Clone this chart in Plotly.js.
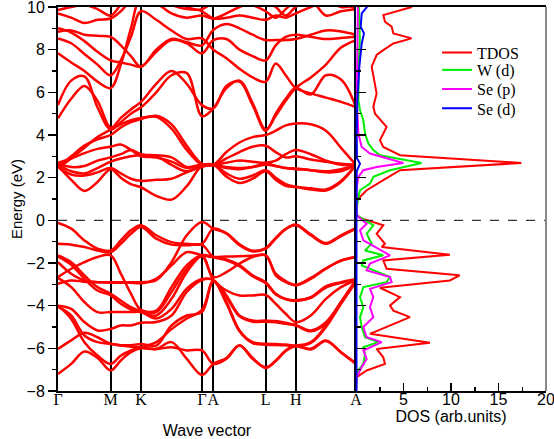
<!DOCTYPE html>
<html>
<head>
<meta charset="utf-8">
<script src="https://cdn.plot.ly/plotly-3.0.1.min.js"></script>
<style>html,body{margin:0;padding:0;background:#fff}#plot{width:554px;height:439px}</style>
</head>
<body>
<div id="plot"></div>
<script>
// k-path (high symmetry points) and sample k positions
const hsPos = [0, 52.7, 83, 144, 155.3, 207.7, 237.7, 298];
const hsLabels = ['Γ', 'M', 'K', 'Γ', 'A', 'L', 'H', 'A'];
const kGrid = [0, 13.2, 26.4, 39.5, 52.7, 62.8, 72.9, 83, 98.25, 113.5, 128.75, 144, 155.3, 168.4, 181.5, 194.6, 207.7, 217.7, 227.7, 237.7, 252.8, 267.9, 283, 298];

// valence bands (eV) at kGrid
const vb1 = [-0.12, -0.39, -0.94, -1.33, -1.41, -0.94, -0.47, -0.23, -0.7, -1.02, -1.1, -1.1, -0.39, -0.63, -1.17, -1.46, -1.33, -0.86, -0.42, -0.23, -0.7, -1.1, -0.74, -0.39];
const vb2 = [-1.1, -1.14, -1.25, -1.41, -1.49, -1.1, -0.63, -0.31, -0.86, -1.14, -1.17, -1.15, -1.72, -1.87, -2.15, -2.62, -2.95, -3.48, -3.7, -3.78, -3.63, -3.15, -2.93, -2.78];
const vb3 = [-1.64, -1.96, -2.58, -3.13, -3.44, -3.76, -4.07, -4.25, -4.3, -3.36, -2.27, -1.64, -1.72, -1.83, -2.1, -2.58, -2.9, -3.44, -3.68, -3.75, -3.6, -3.1, -2.9, -2.75];
const vb4 = [-1.7, -2.08, -2.74, -3.29, -3.52, -3.91, -4.18, -4.3, -4.46, -3.68, -2.43, -1.68, -2.8, -3.29, -3.52, -3.52, -3.5, -3.91, -4.38, -4.77, -4.46, -3.68, -3.13, -2.8];
const vb5 = [-2.66, -2.27, -1.96, -1.72, -1.64, -2.5, -3.44, -4.2, -4.23, -3.13, -2.11, -1.66, -2.66, -2.43, -2.03, -1.72, -1.64, -2.58, -2.9, -3.05, -2.74, -2.27, -1.88, -1.72];
const vb6 = [-1.96, -2.5, -2.82, -2.9, -2.9, -2.9, -2.9, -2.9, -2.8, -1.96, -0.7, -0.08, -0.39, -0.6, -1.12, -1.42, -1.3, -0.82, -0.4, -0.2, -0.66, -1.06, -0.7, -0.37];
const vb7 = [-2.97, -2.82, -2.88, -2.9, -2.92, -2.92, -2.92, -2.95, -2.74, -2.11, -1.49, -1.64, -1.72, -1.7, -1.68, -1.66, -1.64, -2.5, -2.85, -3.02, -2.7, -2.25, -1.9, -1.72];
const vb8 = [-2.7, -3.13, -3.83, -4.3, -4.3, -4.3, -4.3, -4.3, -4.6, -4.15, -3.2, -2.75, -2.8, -3.52, -4.46, -4.7, -4.7, -4.72, -4.8, -4.9, -5.16, -4.77, -3.83, -2.8];
const vb9 = [-4.0, -4.15, -4.77, -5.16, -5.09, -4.93, -4.93, -4.8, -4.77, -4.46, -3.36, -2.8, -2.8, -3.83, -5.16, -5.71, -5.79, -5.8, -5.82, -5.87, -5.71, -4.93, -3.83, -2.8];
const vb10 = [-4.05, -4.46, -5.4, -5.71, -5.79, -5.85, -5.85, -5.8, -5.87, -4.93, -4.46, -4.3, -2.85, -3.6, -4.5, -4.75, -4.75, -4.78, -4.85, -4.93, -5.2, -4.85, -3.9, -2.85];
const vb11 = [-6.03, -5.63, -5.27, -5.48, -5.79, -5.87, -5.92, -5.95, -6.03, -5.95, -6.1, -6.1, -6.73, -6.49, -5.87, -6.49, -6.89, -6.57, -6.1, -5.87, -6.02, -5.63, -6.18, -6.7];
const vb12 = [-7.2, -6.73, -6.15, -6.45, -7.04, -6.57, -6.18, -6.0, -6.03, -5.71, -6.49, -7.25, -6.73, -6.45, -5.85, -6.45, -6.92, -6.6, -6.12, -5.9, -6.05, -5.66, -6.2, -6.73];
const vb13 = [-4.0, -4.62, -5.71, -6.34, -6.73, -6.34, -6.1, -5.95, -5.71, -5.1, -4.6, -4.2, -2.85, -3.9, -5.2, -5.75, -5.83, -5.84, -5.86, -5.9, -5.75, -5.0, -3.9, -2.85];

// conduction bands (eV) at kGrid
const cb1 = [2.55, 1.9, 1.38, 1.8, 2.4, 2.0, 1.7, 1.55, 1.15, 0.97, 1.6, 2.55, 2.6, 2.05, 1.75, 1.95, 2.3, 1.9, 1.62, 1.56, 1.45, 1.4, 1.8, 2.6];
const cb2 = [2.5, 2.15, 2.1, 2.25, 2.45, 2.2, 1.95, 1.85, 1.9, 1.95, 2.25, 2.5, 2.6, 2.2, 1.95, 2.1, 2.35, 2.0, 1.7, 1.58, 1.5, 1.45, 1.85, 2.6];
const cb3 = [2.6, 2.3, 2.2, 2.45, 2.75, 2.9, 3.0, 3.05, 3.0, 2.6, 2.3, 2.6, 2.6, 2.45, 2.4, 2.5, 2.66, 2.55, 2.45, 2.43, 2.35, 2.3, 2.4, 2.6];
const cb4 = [2.65, 2.5, 2.55, 2.8, 2.95, 3.1, 3.3, 3.1, 3.05, 2.95, 2.5, 2.62, 2.6, 2.9, 3.2, 3.45, 3.5, 3.2, 2.95, 3.0, 2.85, 2.75, 2.65, 2.6];
const cb5 = [2.7, 2.9, 3.15, 3.35, 3.45, 3.55, 3.3, 3.0, 2.95, 2.75, 2.45, 2.6, 2.6, 3.2, 3.65, 3.9, 4.0, 4.2, 4.45, 4.54, 4.5, 4.2, 3.4, 2.6];
const cb6 = [2.5, 3.0, 3.5, 3.8, 4.0, 4.35, 4.6, 4.75, 4.9, 4.5, 3.5, 2.65, 2.6, 2.7, 2.8, 2.75, 2.7, 2.8, 3.1, 3.3, 3.1, 2.8, 2.6, 2.6];
const cb7 = [2.45, 2.9, 3.4, 3.9, 4.25, 4.5, 4.7, 4.8, 4.85, 4.3, 3.3, 2.6, 2.6, 2.5, 2.45, 2.5, 2.6, 2.55, 2.45, 2.4, 2.35, 2.25, 2.3, 2.6];
const cb8 = [4.78, 5.7, 6.3, 5.6, 4.35, 4.8, 5.2, 5.55, 6.4, 7.0, 6.4, 5.4, 5.25, 6.3, 6.5, 5.4, 4.2, 5.0, 5.7, 6.2, 5.9, 6.8, 6.6, 5.3];
const cb9 = [5.4, 6.55, 6.75, 5.3, 4.25, 4.6, 5.0, 5.3, 6.0, 6.8, 6.9, 4.88, 5.25, 6.2, 6.55, 5.5, 4.25, 4.9, 5.6, 6.2, 6.7, 7.3, 8.1, 8.45];
const cb10 = [7.83, 7.4, 7.0, 6.5, 6.2, 7.3, 9.0, 10.5, 10.6, 10.4, 10.0, 9.8, 9.46, 9.5, 9.6, 9.5, 9.4, 9.6, 9.5, 9.7, 10.0, 10.3, 10.2, 9.9];
const cb11 = [8.53, 8.3, 7.8, 7.3, 6.8, 7.5, 8.6, 9.8, 9.4, 8.9, 8.5, 8.53, 8.0, 7.6, 7.1, 6.7, 6.5, 7.35, 6.8, 6.2, 5.95, 5.75, 5.55, 5.3];
const cb12 = [9.0, 8.8, 8.4, 7.9, 7.5, 7.4, 7.3, 7.2, 7.9, 8.45, 8.3, 7.83, 8.45, 8.5, 8.0, 7.7, 7.5, 8.2, 8.6, 8.7, 8.6, 8.5, 8.55, 8.6];
const cb13 = [8.84, 8.9, 8.7, 8.65, 8.6, 8.2, 7.7, 7.2, 8.0, 8.5, 8.35, 8.2, 8.92, 9.2, 9.0, 8.7, 8.45, 8.45, 8.45, 8.5, 8.7, 8.9, 8.85, 8.7];
const cb14 = [9.7, 9.5, 9.25, 9.4, 9.46, 9.8, 10.3, 10.6, 10.2, 9.7, 9.5, 9.6, 9.46, 9.7, 10.0, 10.2, 10.3, 10.0, 9.6, 10.0, 10.3, 9.6, 9.8, 9.9];
const cb15 = [9.86, 10.0, 10.1, 9.9, 9.6, 10.1, 10.5, 10.8, 10.5, 10.1, 9.9, 9.9, 10.2, 10.3, 10.4, 10.1, 9.8, 9.5, 9.9, 10.3, 10.6, 10.4, 10.0, 10.1];

// DOS (arb. units) vs energy (eV)
const tdosE = [10, 9.98, 9.62, 9.31, 9.08, 8.76, 8.53, 8.29, 7.98, 7.75, 7.2, 6.73, 5.95, 5.32, 5.0, 4.38, 3.75, 3.44, 3.05, 2.69, 2.35, 1.88, 1.41, 0.94, 0.3, 0.1, -0.23, -0.63, -1.1, -1.25, -1.61, -1.88, -2.27, -2.58, -2.82, -3.16, -3.6, -3.99, -4.23, -4.54, -5.32, -5.74, -6.03, -6.42, -6.73, -7.04, -7.35, -7.6, -8];
const tdosV = [5.9, 5.68, 2.87, 3.05, 3.75, 3.93, 5.85, 3.93, 2.87, 2.17, 1.65, 1.82, 2.17, 1.82, 2.0, 3.22, 2.52, 2.87, 4.63, 17.4, 4.63, 2.87, 1.12, 0.07, 0.0, 0.5, 2.87, 2.17, 3.05, 2.7, 9.88, 2.87, 3.22, 10.9, 9.88, 2.52, 4.63, 3.58, 3.93, 5.68, 1.47, 7.78, 2.17, 2.87, 3.05, 1.12, 0.07, 0, 0];
const wdE = [10, 9.0, 8.5, 7.5, 6.5, 5.63, 5.16, 4.69, 4.07, 3.6, 3.29, 3.05, 2.69, 2.35, 2.04, 1.72, 1.41, 1.1, 0.5, 0.23, -0.23, -0.63, -1.1, -1.41, -1.64, -1.88, -2.11, -2.66, -2.9, -3.13, -3.6, -4.07, -4.54, -5.0, -5.48, -5.71, -5.95, -6.26, -6.73, -7.04, -7.35, -8];
const wdV = [0.3, 0.35, 0.4, 0.3, 0.25, 0.25, 0.42, 0.77, 0.95, 1.3, 1.82, 2.52, 6.9, 3.58, 1.82, 1.47, 0.42, 0.25, 0.05, 0.07, 1.82, 1.12, 1.65, 0.95, 2.87, 0.77, 0.6, 3.58, 3.22, 0.77, 0.42, 0.77, 0.42, 0.6, 0.95, 2.35, 0.77, 0.95, 0.77, 0.25, 0.07, 0];
const sepE = [10, 8.5, 7, 5.63, 4.07, 3.44, 3.13, 2.69, 2.5, 2.35, 2.04, 1.56, 0.5, 0.23, -0.16, -0.47, -0.94, -1.64, -2.03, -2.35, -2.66, -2.9, -3.21, -3.6, -4.07, -4.54, -5.0, -5.48, -5.71, -6.1, -6.5, -6.88, -7.35, -8];
const sepV = [0.2, 0.15, 0.1, 0.07, 0.25, 0.6, 1.47, 4.98, 2.17, 0.77, 0.25, 0.07, 0.05, 0.07, 1.12, 0.42, 0.77, 3.58, 1.47, 1.12, 3.58, 3.75, 1.47, 1.82, 1.47, 1.82, 0.77, 1.12, 2.7, 0.77, 1.12, 0.6, 0.07, 0];
const sedE = [10, 9.98, 9.7, 9.08, 8.76, 8.29, 7.2, 5.63, 4.07, 2.9, 2.66, 2.3, 0, -4, -8];
const sedV = [1.2, 1.12, 0.6, 0.49, 0.84, 0.6, 0.35, 0.14, 0.07, 0.1, 0.42, 0.07, 0.05, 0.06, 0.05];

const bands = [vb1, vb2, vb3, vb4, vb5, vb6, vb7, vb8, vb9, vb10, vb11, vb12, vb13,
               cb1, cb2, cb3, cb4, cb5, cb6, cb7, cb8, cb9, cb10, cb11, cb12, cb13, cb14, cb15];

const traces = bands.map(b => ({
  x: kGrid, y: b, type: 'scatter', mode: 'lines', xaxis: 'x', yaxis: 'y',
  line: {color: '#ff0000', width: 2.5, shape: 'spline', smoothing: 1},
  showlegend: false, hoverinfo: 'skip'
}));

const dosSets = [
  {name: 'TDOS', x: tdosV, y: tdosE, c: '#ff0000', lg: 'legend'},
  {name: 'W (d)', x: wdV, y: wdE, c: '#00ee00', lg: 'legend2'},
  {name: 'Se (p)', x: sepV, y: sepE, c: '#ff00ff', lg: 'legend3'},
  {name: 'Se (d)', x: sedV, y: sedE, c: '#0000ff', lg: 'legend4'}
];
dosSets.forEach(d => traces.push({
  x: d.x, y: d.y, name: d.name, type: 'scatter', mode: 'lines', xaxis: 'x2', yaxis: 'y2',
  line: {color: d.c, width: 2}, hoverinfo: 'skip', legend: d.lg, showlegend: true
}));

const sans = 'Liberation Sans, Arial, sans-serif';
const serif = 'Liberation Serif, Times New Roman, serif';
const split = 0.6107;

function legendAt(yPaper) {
  return {x: 0.7767, y: yPaper, xanchor: 'left', yanchor: 'middle', bgcolor: 'rgba(0,0,0,0)',
          borderwidth: 0, font: {family: serif, size: 16, color: '#000'}};
}

const layout = {
  width: 554, height: 439,
  margin: {l: 58, r: 8, t: 7, b: 48},
  paper_bgcolor: '#ffffff', plot_bgcolor: '#ffffff',
  showlegend: true,
  legend: legendAt(0.881),
  legend2: legendAt(0.836),
  legend3: legendAt(0.786),
  legend4: legendAt(0.736),
  xaxis: {
    domain: [0, split], range: [0, 298], anchor: 'y',
    tickmode: 'array', tickvals: hsPos, ticktext: hsLabels, ticks: '', tickangle: 0,
    ticklabelstandoff: -7, ticklabeloverflow: 'allow',
    showgrid: true, gridcolor: '#000', gridwidth: 2, zeroline: false,
    showline: true, linecolor: '#000', linewidth: 2, mirror: true,
    tickfont: {family: serif, size: 16, color: '#000'},
    title: {text: 'Wave vector', font: {family: sans, size: 16, color: '#000'}, standoff: 19}
  },
  yaxis: {
    domain: [0, 1], range: [-8, 10], anchor: 'x',
    tickmode: 'linear', tick0: 0, dtick: 2, ticks: 'outside', ticklen: 8, tickwidth: 1.5, tickcolor: '#000',
    minor: {dtick: 1, ticklen: 4, ticks: 'outside', tickcolor: '#000', tickwidth: 1.5},
    ticklabeloverflow: 'allow',
    showgrid: false, zeroline: false, showline: true, linecolor: '#000', linewidth: 2,
    tickfont: {family: sans, size: 16, color: '#000'},
    title: {text: 'Energy (eV)', font: {family: sans, size: 15, color: '#000'}, standoff: 0}
  },
  xaxis2: {
    domain: [split, 1], range: [0, 20], anchor: 'y2',
    tickmode: 'array', tickvals: [5, 10, 15, 20], ticks: 'inside', ticklen: 8, tickwidth: 1.5, tickcolor: '#000',
    minor: {tick0: 0, dtick: 2.5, ticklen: 4, ticks: 'inside', tickcolor: '#000', tickwidth: 1.5},
    ticklabelstandoff: -7, ticklabeloverflow: 'allow', tickangle: 0,
    showgrid: false, zeroline: false, showline: true, linecolor: '#000', linewidth: 2, mirror: true,
    tickfont: {family: sans, size: 16, color: '#000'},
    title: {text: 'DOS (arb.units)', font: {family: sans, size: 16, color: '#000'}, standoff: 0}
  },
  yaxis2: {
    domain: [0, 1], range: [-8, 10], anchor: 'x2',
    tickmode: 'linear', tick0: 0, dtick: 2, ticks: 'inside', ticklen: 10, tickwidth: 1.5, tickcolor: '#000',
    minor: {dtick: 1, ticklen: 5, ticks: 'inside', tickcolor: '#000', tickwidth: 1.5},
    showticklabels: false, showgrid: false, zeroline: false,
    showline: true, linecolor: '#000033', linewidth: 2
  },
  shapes: [
    {type: 'line', xref: 'paper', yref: 'y', x0: 0, x1: 1, y0: 0, y1: 0,
     line: {color: '#333', width: 1.3, dash: 'dash'}},
    {type: 'line', xref: 'paper', yref: 'paper', x0: 1, x1: 1, y0: 0, y1: 1,
     line: {color: '#888', width: 2}}
  ]
};

Plotly.newPlot('plot', traces, layout, {displayModeBar: false, staticPlot: true});
</script>
</body>
</html>
